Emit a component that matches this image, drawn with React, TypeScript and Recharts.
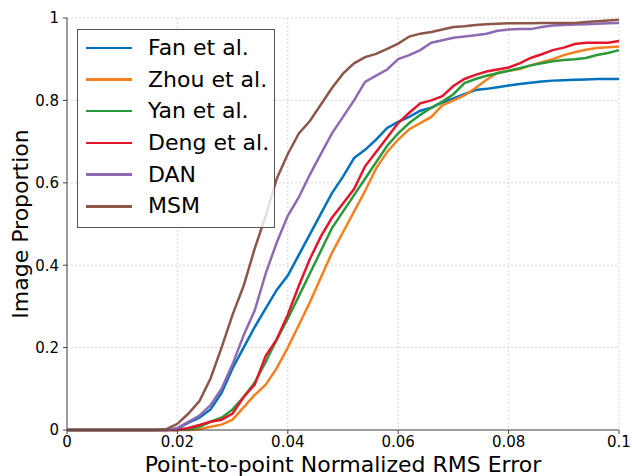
import { LineChart, Line, XAxis, YAxis, CartesianGrid, Legend } from "recharts";

// error thresholds (x) and cumulative image proportion per method
const errs = [
  0, 0.002, 0.004, 0.006, 0.008, 0.01, 0.012, 0.014, 0.016, 0.018,
  0.02, 0.022, 0.024, 0.026, 0.028, 0.03, 0.032, 0.034, 0.036, 0.038,
  0.04, 0.042, 0.044, 0.046, 0.048, 0.05, 0.052, 0.054, 0.056, 0.058,
  0.06, 0.062, 0.064, 0.066, 0.068, 0.07, 0.072, 0.074, 0.076, 0.078,
  0.08, 0.082, 0.084, 0.086, 0.088, 0.09, 0.092, 0.094, 0.096, 0.098, 0.1,
];

const fan = [
  0, 0, 0, 0, 0, 0, 0, 0, 0, 0,
  0.003, 0.018, 0.03, 0.05, 0.09, 0.15, 0.2, 0.25, 0.295, 0.34,
  0.375, 0.425, 0.475, 0.525, 0.575, 0.615, 0.66, 0.68, 0.705, 0.733,
  0.748, 0.76, 0.775, 0.782, 0.795, 0.805, 0.815, 0.825, 0.828, 0.832,
  0.836, 0.84, 0.843, 0.846, 0.848, 0.849, 0.85, 0.851, 0.852, 0.852, 0.852,
];

const zhou = [
  0, 0, 0, 0, 0, 0, 0, 0, 0, 0,
  0, 0, 0.002, 0.008, 0.013, 0.025, 0.055, 0.085, 0.11, 0.15,
  0.2, 0.255, 0.31, 0.37, 0.43, 0.48, 0.53, 0.58, 0.635, 0.675,
  0.705, 0.73, 0.745, 0.76, 0.788, 0.8, 0.812, 0.83, 0.85, 0.867,
  0.872, 0.876, 0.885, 0.893, 0.9, 0.91, 0.917, 0.923, 0.927, 0.929, 0.931,
];

const yan = [
  0, 0, 0, 0, 0, 0, 0, 0, 0, 0,
  0, 0.002, 0.008, 0.02, 0.03, 0.05, 0.08, 0.115, 0.165, 0.22,
  0.27, 0.325, 0.38, 0.435, 0.49, 0.53, 0.57, 0.61, 0.65, 0.69,
  0.72, 0.745, 0.765, 0.782, 0.797, 0.815, 0.842, 0.852, 0.86, 0.866,
  0.872, 0.878, 0.885, 0.89, 0.895, 0.898, 0.9, 0.903, 0.91, 0.915, 0.922,
];

const deng = [
  0, 0, 0, 0, 0, 0, 0, 0, 0, 0,
  0, 0.005, 0.012, 0.02, 0.025, 0.04, 0.08, 0.11, 0.18, 0.22,
  0.28, 0.35, 0.415, 0.47, 0.515, 0.55, 0.585, 0.64, 0.675, 0.71,
  0.745, 0.77, 0.793, 0.8, 0.81, 0.835, 0.852, 0.862, 0.87, 0.875,
  0.88, 0.89, 0.903, 0.912, 0.922, 0.928, 0.937, 0.94, 0.94, 0.94, 0.944,
];

const dan = [
  0, 0, 0, 0, 0, 0, 0, 0, 0, 0,
  0.005, 0.02, 0.035, 0.06, 0.1, 0.16, 0.23, 0.29, 0.38, 0.455,
  0.52, 0.565, 0.62, 0.67, 0.72, 0.76, 0.8, 0.845, 0.86, 0.875,
  0.9, 0.91, 0.922, 0.94, 0.946, 0.952, 0.955, 0.958, 0.962, 0.969,
  0.972, 0.973, 0.973, 0.978, 0.982, 0.983, 0.984, 0.985, 0.986, 0.987, 0.988,
];

const msm = [
  0, 0, 0, 0, 0, 0, 0, 0, 0, 0.002,
  0.015, 0.04, 0.07, 0.125, 0.2, 0.28, 0.35, 0.44, 0.52, 0.61,
  0.67, 0.72, 0.75, 0.79, 0.83, 0.865, 0.89, 0.905, 0.913, 0.925,
  0.938, 0.955, 0.962, 0.966, 0.972, 0.978, 0.98, 0.983, 0.985, 0.986,
  0.987, 0.987, 0.987, 0.988, 0.988, 0.988, 0.988, 0.99, 0.992, 0.994, 0.996,
];

const xTicks = [0, 0.02, 0.04, 0.06, 0.08, 0.1];
const yTicks = [0, 0.2, 0.4, 0.6, 0.8, 1];

const series = [
  { key: "fan", name: "Fan et al.", color: "#0072BD" },
  { key: "zhou", name: "Zhou et al.", color: "#F5801F" },
  { key: "yan", name: "Yan et al.", color: "#2A9A3A" },
  { key: "deng", name: "Deng et al.", color: "#E3172C" },
  { key: "dan", name: "DAN", color: "#8E6AB2" },
  { key: "msm", name: "MSM", color: "#8C564B" },
];

const rows = errs.map((x, i) => ({
  x,
  fan: fan[i],
  zhou: zhou[i],
  yan: yan[i],
  deng: deng[i],
  dan: dan[i],
  msm: msm[i],
}));

const FONT = "'DejaVu Sans', sans-serif";
const AXIS = "#444";

// legend keeps the plotting order (recharts would sort it by name)
function LegendBox() {
  return (
    <div
      style={{
        width: 196,
        height: 195,
        border: "1px solid #555",
        background: "rgba(255,255,255,0.8)",
        paddingTop: 2,
        boxSizing: "content-box",
      }}
    >
      {series.map((s) => (
        <div
          key={s.key}
          style={{ display: "flex", alignItems: "center", height: 31.7 }}
        >
          <div
            style={{
              marginLeft: 8,
              width: 46,
              height: 2.5,
              background: s.color,
            }}
          />
          <span
            style={{
              marginLeft: 16,
              fontFamily: FONT,
              fontSize: 22,
              lineHeight: "26px",
              color: "#000",
              whiteSpace: "nowrap",
            }}
          >
            {s.name}
          </span>
        </div>
      ))}
    </div>
  );
}

function YLabel({ viewBox }: any) {
  const cx = viewBox.x + 20;
  const cy = viewBox.y + viewBox.height / 2;
  return (
    <text
      x={cx}
      y={cy}
      transform={`rotate(-90, ${cx}, ${cy})`}
      textAnchor="middle"
      dominantBaseline="central"
      fontFamily={FONT}
      fontSize={22}
      fill="#000"
    >
      Image Proportion
    </text>
  );
}

function XLabel({ viewBox }: any) {
  return (
    <text
      x={viewBox.x + viewBox.width / 2}
      y={viewBox.y + 42}
      textAnchor="middle"
      fontFamily={FONT}
      fontSize={22}
      fill="#000"
    >
      Point-to-point Normalized RMS Error
    </text>
  );
}

export default function App() {
  return (
    <div style={{ position: "absolute", left: 0, top: 0, background: "#fff" }}>
      <LineChart
        width={632}
        height={476}
        data={rows}
        margin={{ top: 18, right: 13, left: 0, bottom: 0 }}
      >
        <CartesianGrid stroke="#d6d6d6" strokeDasharray="2 2" />
        <XAxis
          dataKey="x"
          type="number"
          domain={[0, 0.1]}
          ticks={xTicks}
          height={46}
          stroke={AXIS}
          tickSize={4}
          tickMargin={2}
          tick={{ fill: "#000", fontSize: 15, fontFamily: FONT }}
          label={<XLabel />}
        />
        <XAxis
          xAxisId="top"
          orientation="top"
          type="number"
          domain={[0, 0.1]}
          height={0}
          stroke={AXIS}
          tick={false}
          tickLine={false}
        />
        <YAxis
          type="number"
          domain={[0, 1]}
          ticks={yTicks}
          width={67}
          stroke={AXIS}
          tickSize={4}
          tickMargin={4}
          tick={{ fill: "#000", fontSize: 15, fontFamily: FONT }}
          label={<YLabel />}
        />
        <YAxis
          yAxisId="right"
          orientation="right"
          type="number"
          domain={[0, 1]}
          width={0}
          stroke={AXIS}
          tick={false}
          tickLine={false}
        />
        <Legend
          layout="vertical"
          align="center"
          verticalAlign="middle"
          content={<LegendBox />}
          wrapperStyle={{ position: "absolute", left: 77, top: 29, width: 198 }}
        />
        {series.map((s) => (
          <Line
            key={s.key}
            type="linear"
            dataKey={s.key}
            name={s.name}
            stroke={s.color}
            strokeWidth={2.5}
            dot={false}
            isAnimationActive={false}
          />
        ))}
      </LineChart>
    </div>
  );
}
